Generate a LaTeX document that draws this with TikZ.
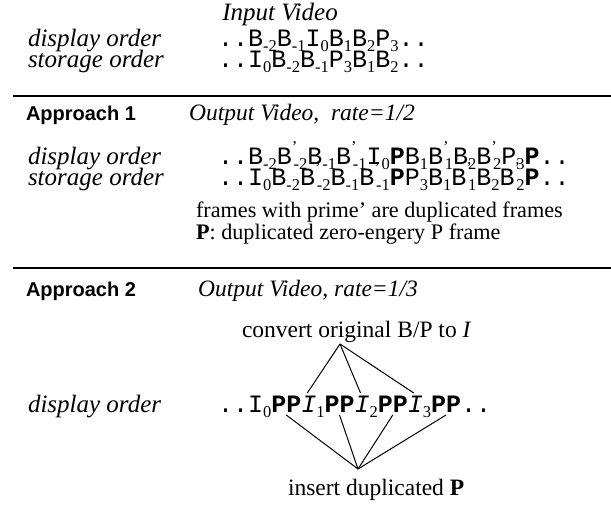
\documentclass[tikz,border=0pt]{standalone}
\usepackage{fontspec}
\setmainfont{Liberation Serif}
\setsansfont{Liberation Sans}
\setmonofont{Liberation Mono}
\usetikzlibrary{calc}

\newcommand\sbx[1]{\raisebox{-5pt}{\fontsize{16.5}{16.5}\selectfont\rmfamily #1}}
\newcommand\prm{\makebox[1.8pt][l]{\raisebox{12pt}{\fontsize{16.5}{16.5}\selectfont\rmfamily ’}}}
\newcommand\bP{\textbf{P}}

\tikzset{
  lbl/.style={font=\fontsize{25}{28}\selectfont\itshape, anchor=base west, inner sep=0pt, outer sep=0pt},
  ttl/.style={font=\fontsize{23.5}{28}\selectfont\itshape, anchor=base, inner sep=0pt, outer sep=0pt},
  hdr/.style={font=\fontsize{20}{24}\selectfont\sffamily\bfseries, anchor=base west, inner sep=0pt, outer sep=0pt},
  sq/.style={font=\fontsize{25}{28}\selectfont\ttfamily, anchor=base west, inner sep=0pt, outer sep=0pt},
  sqb/.style={sq, font=\fontsize{25}{28}\selectfont\ttfamily\bfseries},
  sqi/.style={sq, font=\fontsize{25}{28}\selectfont\ttfamily\itshape},
  txt/.style={font=\fontsize{23.5}{28}\selectfont, anchor=base west, inner sep=0pt, outer sep=0pt},
  note/.style={txt, font=\fontsize{22.2}{26}\selectfont},
  rule/.style={line width=1.8pt},
  conn/.style={line width=1pt}
}

\begin{document}
\begin{tikzpicture}[x=1pt, y=-1pt]
\useasboundingbox (0,0) rectangle (611,506);

% Input video
\node[ttl, font=\fontsize{25}{28}\selectfont\itshape] (in) at (280,20) {Input Video};
\node[lbl] (d1) at (28,46) {display order};
\node[lbl] (s1) at (28,67) {storage order};
\node[sq] (ds1) at (218,46) {..B\sbx{-2}B\sbx{-1}I\sbx{0}B\sbx{1}B\sbx{2}P\sbx{3}..};
\node[sq] (ss1) at (218,67) {..I\sbx{0}B\sbx{-2}B\sbx{-1}P\sbx{3}B\sbx{1}B\sbx{2}..};

\coordinate (r1a) at (13,96);
\coordinate (r1b) at (611,96);
\draw[rule] (r1a) -- (r1b);

% Approach 1
\node[hdr] (a1) at (26,120) {Approach 1};
\node[ttl] (o1) at (302,120) {Output Video,\ \ rate=1/2};
\node[lbl] (d2) at (28,164) {display order};
\node[lbl] (s2) at (28,185) {storage order};
\node[sq] (ds2) at (218,164) {..B\sbx{-2}B\prm\sbx{-2}B\sbx{-1}B\prm\sbx{-1}I\sbx{0}\bP B\sbx{1}B\prm\sbx{1}B\sbx{2}B\prm\sbx{2}P\sbx{3}\bP..};
\node[sq] (ss2) at (218,185) {..I\sbx{0}B\sbx{-2}B\prm\sbx{-2}B\sbx{-1}B\prm\sbx{-1}\bP P\sbx{3}B\sbx{1}B\prm\sbx{1}B\sbx{2}B\prm\sbx{2}\bP..};
\node[note] (fr) at (196,217) {frames with prime’ are duplicated frames};
\node[note] (pd) at (196,239) {\textbf{P}: duplicated zero-engery P frame};

\coordinate (r2a) at (13,268);
\coordinate (r2b) at (611,268);
\draw[rule] (r2a) -- (r2b);

% Approach 2
\node[hdr] (a2) at (26,296) {Approach 2};
\node[ttl] (o2) at (308,296) {Output Video, rate=1/3};
\node[txt] (cv) at (242,337) {convert original B/P to \textit{I}};
\node[lbl] (d3) at (28,412) {display order};

\node[sq] (q0) at (218,412) {..I\sbx{0}};
\node[sqb] (p0) at (q0.base east) {PP};
\node[sqi] (i1) at (p0.base east) {I};
\node[sq] (n1) at (i1.base east) {\sbx{1}};
\node[sqb] (p1) at (n1.base east) {PP};
\node[sqi] (i2) at (p1.base east) {I};
\node[sq] (n2) at (i2.base east) {\sbx{2}};
\node[sqb] (p2) at (n2.base east) {PP};
\node[sqi] (i3) at (p2.base east) {I};
\node[sq] (n3) at (i3.base east) {\sbx{3}};
\node[sqb] (p3) at (n3.base east) {PP};
\node[sq] (e3) at (p3.base east) {..};

\node[txt] (ins) at (288,495) {insert duplicated \textbf{P}};

\coordinate (ta) at (340,344);
\coordinate (ba) at (358,469);
\draw[conn] (ta) -- ($(i1.base west)+(6,-19)$);
\draw[conn] (ta) -- ($(i2.base west)+(6,-19)$);
\draw[conn] (ta) -- ($(i3.base west)+(6,-19)$);
\draw[conn] ($(p0.base)+(0,3)$) -- (ba);
\draw[conn] ($(p1.base)+(0,3)$) -- (ba);
\draw[conn] ($(p2.base)+(0,3)$) -- (ba);
\draw[conn] ($(p3.base)+(0,3)$) -- (ba);
\end{tikzpicture}
\end{document}
